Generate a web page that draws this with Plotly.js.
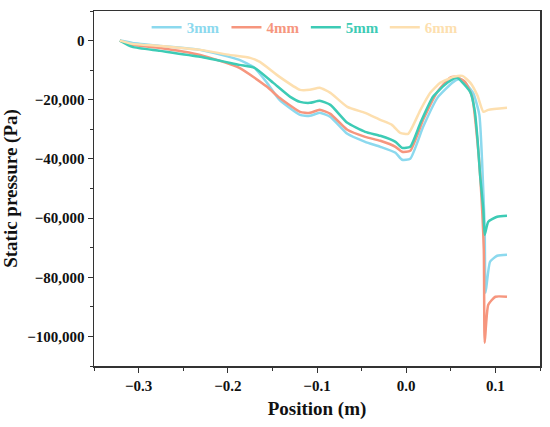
<!DOCTYPE html>
<html>
<head>
<meta charset="utf-8">
<script src="https://cdn.plot.ly/plotly-3.0.1.min.js"></script>
<style>html,body{margin:0;padding:0;background:#fff;}#chart{width:550px;height:427px;}</style>
</head>
<body>
<div id="chart"></div>
<script>
// Position (m) and static pressure (Pa) for each ring width
const names = ["3mm", "4mm", "5mm", "6mm"];
const colors = ["#8cd9ee", "#f6967e", "#3dcbb5", "#fddfaf"];

const x3 = [-0.321,-0.307,-0.276,-0.231,-0.187,-0.170,-0.156,-0.142,-0.119,-0.108,-0.097,-0.085,-0.066,-0.046,-0.029,-0.012,-0.0045,0.0045,0.019,0.035,0.053,0.061,0.075,0.082,0.085,0.088,0.089,0.094,0.102,0.113];
const y3 = [0,-780,-1790,-3140,-6520,-9220,-14290,-20030,-25100,-25440,-24430,-25780,-31520,-34220,-35910,-37940,-40300,-39960,-29150,-19360,-13950,-12940,-17670,-25100,-40300,-63950,-85240,-74760,-72740,-72400];

const x4 = [-0.321,-0.307,-0.276,-0.231,-0.187,-0.156,-0.142,-0.119,-0.108,-0.097,-0.085,-0.066,-0.046,-0.029,-0.012,-0.0045,0.0045,0.019,0.035,0.049,0.055,0.066,0.074,0.080,0.083,0.087,0.088,0.092,0.100,0.113];
const y4 = [0,-1450,-2470,-4830,-9220,-15640,-19360,-24090,-24430,-23410,-24760,-30160,-32530,-33880,-35910,-37600,-37260,-26790,-17330,-12600,-12260,-13950,-19000,-34560,-46040,-70700,-102130,-89290,-86590,-86590];

const x5 = [-0.321,-0.307,-0.276,-0.231,-0.187,-0.170,-0.149,-0.130,-0.119,-0.108,-0.097,-0.085,-0.066,-0.046,-0.029,-0.012,-0.0045,0.0045,0.016,0.030,0.046,0.057,0.072,0.077,0.080,0.083,0.0865,0.088,0.092,0.102,0.113];
const y5 = [0,-2130,-3480,-5500,-8210,-9220,-14290,-19020,-20710,-21040,-20370,-21720,-27800,-30840,-32190,-34220,-36250,-35910,-27800,-19020,-14290,-12600,-17500,-24000,-33550,-46040,-57190,-65640,-61250,-59560,-59220];

const x6 = [-0.321,-0.307,-0.276,-0.231,-0.198,-0.175,-0.164,-0.142,-0.119,-0.108,-0.097,-0.085,-0.066,-0.046,-0.029,-0.016,-0.0067,0.0022,0.016,0.027,0.038,0.053,0.063,0.072,0.080,0.0865,0.092,0.113];
const y6 = [0,-1110,-1790,-3140,-4830,-5840,-7200,-12260,-16650,-16650,-15980,-17670,-22400,-24430,-26790,-28480,-31180,-31520,-23410,-17670,-14290,-12260,-11930,-14290,-18680,-24090,-23410,-22740];

const xs = [x3, x4, x5, x6];
const ys = [y3, y4, y5, y6];
const legendIds = ["legend", "legend2", "legend3", "legend4"];
const legendX = [0.118, 0.297, 0.475, 0.652];

const font = {family: "Liberation Serif, Times New Roman, serif", weight: "bold"};

const traces = names.map((n, i) => ({
  x: xs[i], y: ys[i], name: n, type: "scatter", mode: "lines",
  line: {color: colors[i], width: 2.5, shape: "spline", smoothing: 0.5},
  legend: legendIds[i]
}));

const layout = {
  width: 550, height: 427,
  margin: {l: 94, r: 10, t: 11, b: 61},
  paper_bgcolor: "#fff", plot_bgcolor: "#fff",
  showlegend: true,
  xaxis: {
    range: [-0.35, 0.15], dtick: 0.1, tick0: 0, tickformat: ".1f",
    showgrid: false, zeroline: false,
    showline: true, mirror: true, linecolor: "#333", linewidth: 1.5,
    ticks: "outside", ticklen: 5, tickwidth: 1, tickcolor: "#333",
    minor: {dtick: 0.05, ticks: "outside", ticklen: 3, tickcolor: "#333"},
    tickfont: Object.assign({size: 15, color: "#111"}, font),
    title: {text: "Position (m)", font: Object.assign({size: 19, color: "#111"}, font), standoff: 9}
  },
  yaxis: {
    range: [-110000, 10000], dtick: 20000, tick0: 0, tickformat: ",",
    showgrid: false, zeroline: false,
    showline: true, mirror: true, linecolor: "#333", linewidth: 1.5,
    ticks: "outside", ticklen: 5, tickwidth: 1, tickcolor: "#333",
    minor: {dtick: 10000, ticks: "outside", ticklen: 3, tickcolor: "#333"},
    tickfont: Object.assign({size: 15, color: "#111"}, font),
    title: {text: "Static pressure (Pa)", font: Object.assign({size: 19, color: "#111"}, font), standoff: 7}
  }
};

legendIds.forEach((id, i) => {
  layout[id] = {
    x: legendX[i], y: 1.0, xanchor: "left", yanchor: "top",
    orientation: "h", bgcolor: "rgba(0,0,0,0)", borderwidth: 0,
    font: Object.assign({size: 15, color: colors[i]}, font),
    itemwidth: 30
  };
});

Plotly.newPlot("chart", traces, layout, {displayModeBar: false, staticPlot: true});
</script>
</body>
</html>
